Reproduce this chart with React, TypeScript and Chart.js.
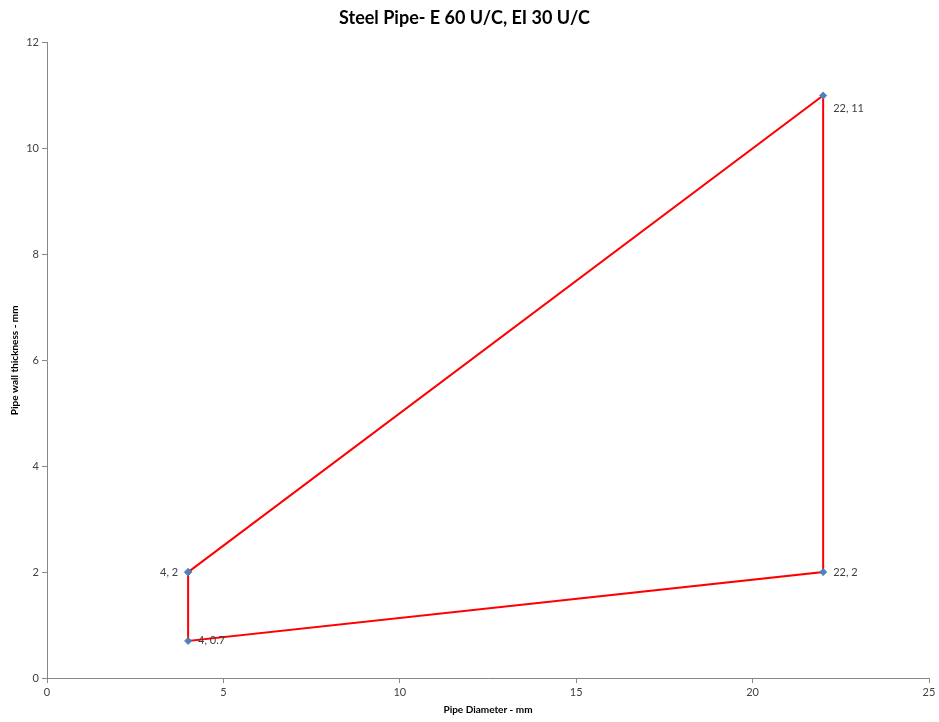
import { useEffect, useRef } from "react";
import { Chart, registerables } from "chart.js";

Chart.register(...registerables);

const chartTitle = "Steel Pipe- E 60 U/C, EI 30 U/C";
const xAxisTitle = "Pipe Diameter - mm";
const yAxisTitle = "Pipe wall thickness - mm";

// polygon outline (closed back to the first point)
const pipeDiameter = [4, 22, 22, 4, 4];
const wallThickness = [2, 11, 2, 0.7, 2];

const xTicks = [0, 5, 10, 15, 20, 25];
const yTicks = [0, 2, 4, 6, 8, 10, 12];

// label placement per point (styling only)
const labelSide = ["left", "right", "right", "right", "none"];
const labelDy = [0, 13, 0, 0, 0];

const FONT = "Lato, 'Open Sans', sans-serif";

const dataLabelPlugin = {
  id: "dataLabels",
  afterDatasetsDraw(chart: any) {
    const meta = chart.getDatasetMeta(0);
    const ctx = chart.ctx;
    ctx.save();
    ctx.font = `11px ${FONT}`;
    ctx.fillStyle = "#404040";
    ctx.textBaseline = "middle";
    meta.data.forEach((pt: any, i: number) => {
      const side = labelSide[i];
      if (side === "none") return;
      const text = `${pipeDiameter[i]}, ${wallThickness[i]}`;
      if (side === "left") {
        ctx.textAlign = "right";
        ctx.fillText(text, pt.x - 10, pt.y + labelDy[i]);
      } else {
        ctx.textAlign = "left";
        ctx.fillText(text, pt.x + 10, pt.y + labelDy[i]);
      }
    });
    ctx.restore();
  },
};

export default function App() {
  const ref = useRef<HTMLCanvasElement>(null);
  useEffect(() => {
    if (!ref.current) return;
    const chart = new Chart(ref.current, {
      type: "scatter",
      data: {
        datasets: [
          {
            data: pipeDiameter.map((x, i) => ({ x, y: wallThickness[i] })),
            showLine: true,
            borderColor: "#FF0000",
            borderWidth: 2,
            pointStyle: "rectRot",
            pointRadius: 3.5,
            pointBackgroundColor: "#4F81BD",
            pointBorderColor: "#4F81BD",
            pointBorderWidth: 1,
            tension: 0,
          },
        ],
      },
      options: {
        animation: false,
        responsive: false,
        layout: { padding: { left: 0, right: 10, top: 0, bottom: 0 } },
        plugins: {
          legend: { display: false },
          tooltip: { enabled: false },
          title: {
            display: true,
            text: chartTitle,
            color: "#000000",
            font: { family: FONT, size: 18, weight: "bold" },
            padding: { top: 7, bottom: 14 },
          },
        },
        scales: {
          x: {
            type: "linear",
            min: xTicks[0],
            max: xTicks[xTicks.length - 1],
            afterBuildTicks: (s: any) => {
              s.ticks = xTicks.map((v) => ({ value: v }));
            },
            afterFit: (s: any) => {
              s.height = 44;
            },
            grid: {
              display: true,
              drawOnChartArea: false,
              drawTicks: true,
              tickLength: 5,
              color: "#878787",
            },
            border: { display: true, color: "#878787", width: 1 },
            ticks: {
              color: "#404040",
              font: { family: FONT, size: 11 },
              padding: 3,
              maxRotation: 0,
            },
            title: {
              display: true,
              text: xAxisTitle,
              color: "#000000",
              font: { family: FONT, size: 10, weight: "bold" },
              padding: { top: 0, bottom: 6 },
            },
          },
          y: {
            type: "linear",
            min: yTicks[0],
            max: yTicks[yTicks.length - 1],
            afterBuildTicks: (s: any) => {
              s.ticks = yTicks.map((v) => ({ value: v }));
            },
            afterFit: (s: any) => {
              s.width = 47;
            },
            grid: {
              display: true,
              drawOnChartArea: false,
              drawTicks: true,
              tickLength: 5,
              color: "#878787",
            },
            border: { display: true, color: "#878787", width: 1 },
            ticks: {
              color: "#404040",
              font: { family: FONT, size: 11 },
              padding: 3,
            },
            title: {
              display: true,
              text: yAxisTitle,
              color: "#000000",
              font: { family: FONT, size: 10, weight: "bold" },
              padding: { top: 9, bottom: 0 },
            },
          },
        },
      },
      plugins: [dataLabelPlugin],
    });
    return () => chart.destroy();
  }, []);
  return (
    <div style={{ position: "fixed", left: 0, top: 0, width: 939, height: 722, background: "#fff" }}>
      <canvas ref={ref} width={939} height={722} style={{ width: 939, height: 722 }} />
    </div>
  );
}
